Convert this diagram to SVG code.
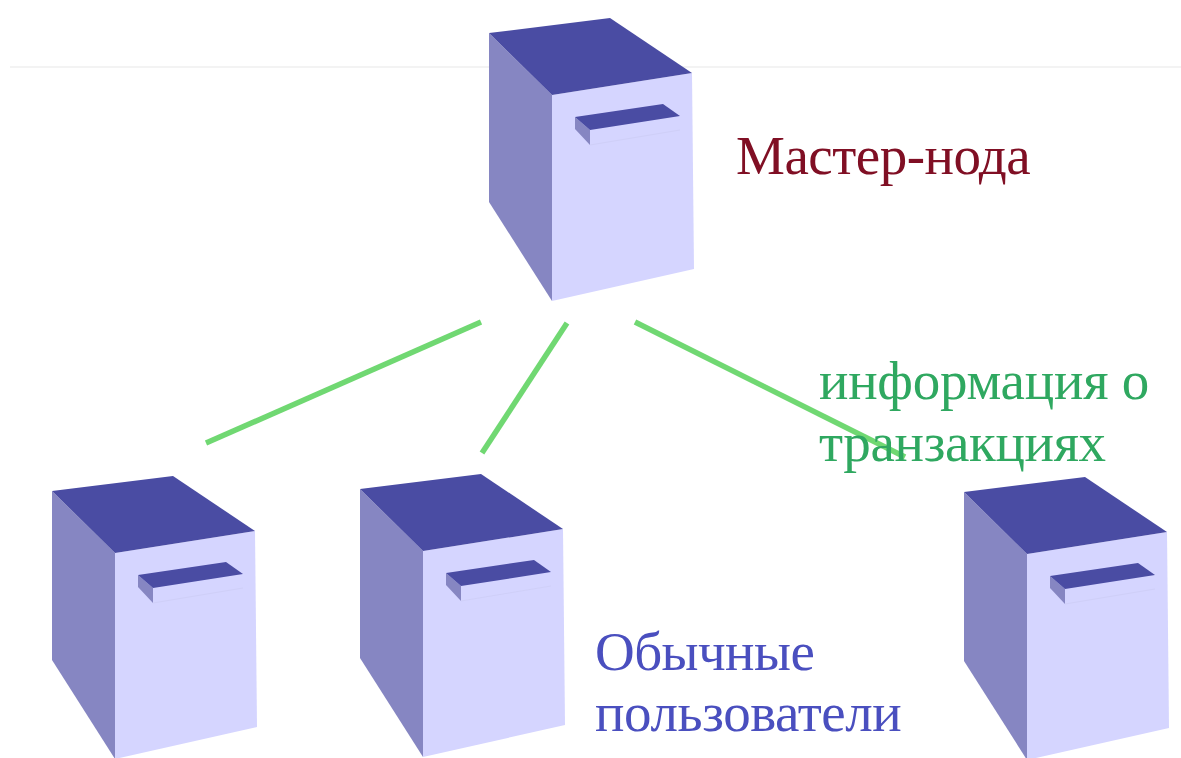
<svg xmlns="http://www.w3.org/2000/svg" width="1181" height="758" viewBox="0 0 1181 758">
<style>
.t{fill:#4a4ca3}.s{fill:#8686c2}.f{fill:#d5d5ff}
.h{fill:none;stroke:#cfcff8;stroke-width:1}
.c{stroke:#70d872;stroke-width:5.5;fill:none}
text{font-family:"Liberation Serif","Times New Roman",serif;font-size:55px}
</style>
<defs>
<g id="srv">
<polygon class="f" points="63,62 203,40 205,236 63,268"/>
<polygon class="s" points="0,0 63,62 63,268 0,169"/>
<polygon class="t" points="0,0 121,-15 203,40 63,62"/>
<polygon class="s" points="86,84 101,97 101,112 86,96"/>
<polygon class="t" points="86,84 174,71 191,83 101,97"/>
<path class="h" d="M101,112 L191,97"/>
</g>
</defs>
<rect width="1181" height="758" fill="#fff"/>
<path d="M10,67 H1181" stroke="#f3f3f3" stroke-width="2" fill="none"/>
<g id="connectors">
<line class="c" x1="206" y1="443" x2="481" y2="322"/>
<line class="c" x1="482" y1="453" x2="567" y2="323"/>
<line class="c" x1="635" y1="322" x2="905" y2="457"/>
</g>
<g id="master-node"><use href="#srv" x="489" y="33"/><text x="736" y="174" fill="#800f24" letter-spacing="-.5">Мастер-нода</text></g>
<g id="user-1"><use href="#srv" x="52" y="491"/></g>
<g id="user-2"><use href="#srv" x="360" y="489"/></g>
<g id="user-3"><use href="#srv" x="964" y="492"/></g>
<g id="label-info"><text x="819" y="399" fill="#2fa860" letter-spacing="-.25">информация о</text><text x="819" y="461" fill="#2fa860" letter-spacing="-.35">транзакциях</text></g>
<g id="label-users"><text x="595" y="670" fill="#4a4fbf" letter-spacing="-.55">Обычные</text><text x="595" y="731" fill="#4a4fbf" letter-spacing="-.4">пользователи</text></g>
</svg>
